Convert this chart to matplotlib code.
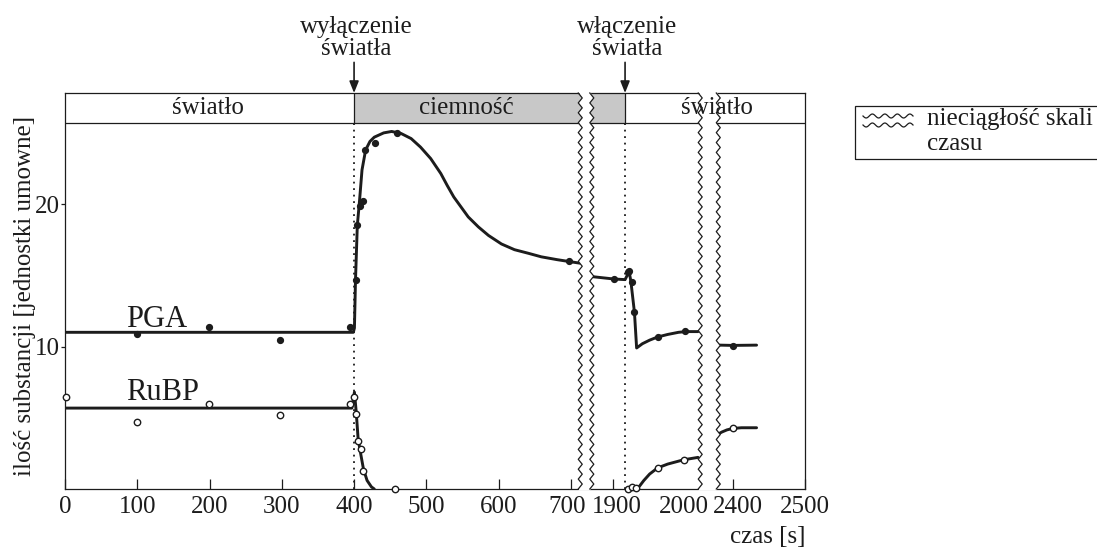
import numpy as np
import matplotlib.pyplot as plt
from matplotlib.patches import Rectangle, Polygon
from matplotlib.lines import Line2D
from matplotlib.transforms import ScaledTranslation

plt.rcParams['font.family'] = ['Liberation Serif', 'DejaVu Serif']
INK = '#1c1c1c'
GREY = '#c8c8c8'

# --- data (czas w s, ilość w jednostkach umownych) ---
# PGA - punkty pomiarowe
pga_t = [99, 199, 298, 394, 402, 404.5, 407.6, 412, 415.5, 429, 460, 697,
         1901, 1920, 1922, 1926, 1928, 1961, 1999, 2400]
pga_y = [10.86, 11.35, 10.46, 11.39, 14.67, 18.53, 19.86, 20.23, 23.8, 24.3, 24.96, 16.0,
         14.74, 15.2, 15.3, 14.5, 12.4, 10.67, 11.1, 10.05]
# RuBP - punkty pomiarowe
rubp_t = [2, 99, 199, 298, 394, 400.6, 403, 405.4, 409.6, 412.8, 457,
          1920, 1925, 1931, 1961, 1997, 2400]
rubp_y = [6.48, 4.72, 5.94, 5.19, 5.94, 6.43, 5.26, 3.37, 2.78, 1.26, 0.02,
          0.0, 0.12, 0.05, 1.48, 2.05, 4.26]

# krzywe (po fragmentach osi czasu)
pga_c1_t = [0, 399, 400.5, 402, 404.5, 407.5, 411, 416, 422, 428, 441, 452, 465, 479,
            492, 506, 520, 529, 538, 548, 558, 572, 586, 604, 622, 641, 659, 681, 700, 713]
pga_c1_y = [11.0, 11.0, 11.3, 14.7, 18.5, 20.2, 22.4, 23.8, 24.4, 24.7, 25.0, 25.1, 24.96, 24.6,
            24.0, 23.2, 22.15, 21.3, 20.5, 19.8, 19.1, 18.4, 17.8, 17.2, 16.8, 16.55, 16.3, 16.1,
            15.95, 15.85]
pga_c2_t = [1872, 1901, 1916, 1919, 1921.5, 1924, 1929, 1932, 1940, 1950, 1961, 1975, 1990, 2000, 2017]
pga_c2_y = [14.9, 14.74, 14.7, 15.0, 15.3, 14.6, 12.4, 9.9, 10.2, 10.45, 10.67, 10.85, 11.0, 11.05, 11.05]
pga_c3_t = [2382, 2400, 2433]
pga_c3_y = [10.1, 10.08, 10.1]

rubp_c1_t = [0, 397, 400.5, 403, 405.5, 408, 413, 418, 424, 428]
rubp_c1_y = [5.68, 5.68, 6.8, 5.4, 3.6, 2.8, 1.4, 0.6, 0.15, 0.0]
rubp_c2_t = [1931, 1936, 1942, 1950, 1961, 1975, 1997, 2017]
rubp_c2_y = [0.05, 0.2, 0.6, 1.05, 1.48, 1.75, 2.05, 2.22]
rubp_c3_t = [2380, 2385, 2392, 2400, 2412, 2433]
rubp_c3_y = [3.86, 4.0, 4.15, 4.25, 4.3, 4.3]

light_off = 400
light_on = 1916
xticks = [0, 100, 200, 300, 400, 500, 600, 700, 1900, 2000, 2400, 2500]
# small horizontal nudges of crowded tick labels (px)
tick_nudge = {700: -4, 1900: 3, 2000: -2, 2400: 5}

# nieciągła oś czasu: trzy fragmenty o tej samej skali
t_knots = [-1e5, 0, 713, 1870, 2020, 2380, 1e5]
u_knots = [-1e5, 0, 713, 729, 879, 904, 1e5 - 1476]
gaps = [(713, 1870), (2020, 2380)]


def fwd(t):
    return np.interp(t, t_knots, u_knots)


def inv(u):
    return np.interp(u, u_knots, t_knots)


W, H = 1097, 550
fig = plt.figure(figsize=(W / 100, H / 100), dpi=100)
ax = fig.add_axes([65 / W, 1 - 489 / H, 740 / W, 396 / H])
ax.set_xscale('function', functions=(fwd, inv))
ax.set_xlim(0, 2500)
y_band = 25.7
y_top = 27.8
ax.set_ylim(0, y_top)

for s in ax.spines.values():
    s.set_linewidth(0.9)
    s.set_color(INK)

# pasek światło / ciemność
ax.add_patch(Rectangle((light_off, y_band), light_on - light_off, y_top - y_band,
                       facecolor=GREY, edgecolor='none', zorder=1))
ax.axhline(y_band, color=INK, lw=0.9, zorder=2)
for tv in (light_off, light_on):
    ax.plot([tv, tv], [y_band, y_top], color=INK, lw=0.9, zorder=2)
    ax.plot([tv, tv], [0, y_band], color=INK, lw=1.3, ls=(0, (1, 2.6)), zorder=1.5)

ax.text(198, 26.75, 'światło', ha='center', va='center', fontsize=18, color=INK, zorder=6)
ax.text(556, 26.75, 'ciemność', ha='center', va='center', fontsize=18, color=INK, zorder=6)
ax.text(0.881, 26.75, 'światło', ha='center', va='center', fontsize=18, color=INK, zorder=6,
        transform=ax.get_yaxis_transform())

# strzałki
for tv, lab in ((light_off, 'wyłączenie\nświatła'), (light_on, 'włączenie\nświatła')):
    ax.annotate('', xy=(tv, y_top), xytext=(tv, 29.95), annotation_clip=False,
                arrowprops=dict(arrowstyle='-|>,head_length=0.7,head_width=0.28',
                                color=INK, lw=1.2, shrinkA=0, shrinkB=0))
    ax.text(tv + 3, 30.1, lab, ha='center', va='bottom', fontsize=18, color=INK,
            linespacing=1.0, clip_on=False)

# krzywe
for ct, cy in ((pga_c1_t, pga_c1_y), (pga_c2_t, pga_c2_y), (pga_c3_t, pga_c3_y),
               (rubp_c1_t, rubp_c1_y), (rubp_c2_t, rubp_c2_y), (rubp_c3_t, rubp_c3_y)):
    ax.plot(ct, cy, color=INK, lw=2.1, solid_capstyle='round', solid_joinstyle='round', zorder=2)

ax.plot(pga_t, pga_y, 'o', ms=4.2, color=INK, zorder=3, clip_on=False)
ax.plot(rubp_t, rubp_y, 'o', ms=4.6, mfc='white', mec=INK, mew=1.0, zorder=3, clip_on=False)

ax.text(85, 11.4, 'PGA', fontsize=22, color=INK, va='baseline')
ax.text(85, 6.25, 'RuBP', fontsize=22, color=INK, va='baseline')

# przerwy osi czasu (zygzaki)
u_end = fwd(2500)
amp = 2.0 / 740
nz = 40
yy = np.linspace(0, 1, 2 * nz + 1)
zz = amp * np.where(np.arange(yy.size) % 2 == 0, -1, 1)
for a, b in gaps:
    xa = fwd(a) / u_end
    xb = fwd(b) / u_end
    yext = yy.copy()
    yext[0] = -0.004
    yext[-1] = 1.004
    poly = np.column_stack([np.r_[xa + zz, (xb + zz)[::-1]], np.r_[yext, yext[::-1]]])
    ax.add_patch(Polygon(poly, closed=True, facecolor='white', edgecolor='none',
                         transform=ax.transAxes, clip_on=False, zorder=4))
    for x0 in (xa, xb):
        ax.plot(x0 + zz, yy, color=INK, lw=0.9, transform=ax.transAxes,
                clip_on=False, zorder=5)

# osie
ax.set_xticks(xticks)
ax.set_xticklabels([str(v) for v in xticks])
ax.tick_params(axis='x', direction='in', length=7, width=0.9, labelsize=18, pad=5,
               colors=INK)
for tk, v in zip(ax.xaxis.get_major_ticks(), xticks):
    if v == 2000:
        tk.tick1line.set_visible(False)
    if v in tick_nudge:
        lab = tk.label1
        lab.set_transform(lab.get_transform()
                          + ScaledTranslation(tick_nudge[v] / 100, 0, fig.dpi_scale_trans))
ax.set_yticks([10, 20])
ax.tick_params(axis='y', direction='out', length=3, width=0.9, labelsize=18, pad=1,
               colors=INK)
ax.set_ylabel('ilość substancji [jednostki umowne]', fontsize=18, color=INK)
ax.yaxis.set_label_coords(-0.039, 0.487)
ax.text(1.0, -0.121, 'czas [s]', transform=ax.transAxes, ha='right', va='center',
        fontsize=18, color=INK)

# legenda
def fx(px):
    return px / W


def fy(py):
    return 1 - py / H


fig.add_artist(Rectangle((fx(855), fy(159)), fx(1110) - fx(855), fy(106) - fy(159),
                         transform=fig.transFigure, fill=False, ec=INK, lw=0.9))
lx = np.linspace(863, 913, 60)
for ly in (116, 125):
    fig.add_artist(Line2D(fx(lx), fy(ly + 2.0 * np.sin((lx - 863) / 12.5 * 2 * np.pi)),
                          transform=fig.transFigure, color=INK, lw=0.9))
fig.text(fx(927), fy(119), 'nieciągłość skali', fontsize=18, color=INK, va='center')
fig.text(fx(927), fy(144), 'czasu', fontsize=18, color=INK, va='center')

fig.savefig('out.png', dpi=100)
